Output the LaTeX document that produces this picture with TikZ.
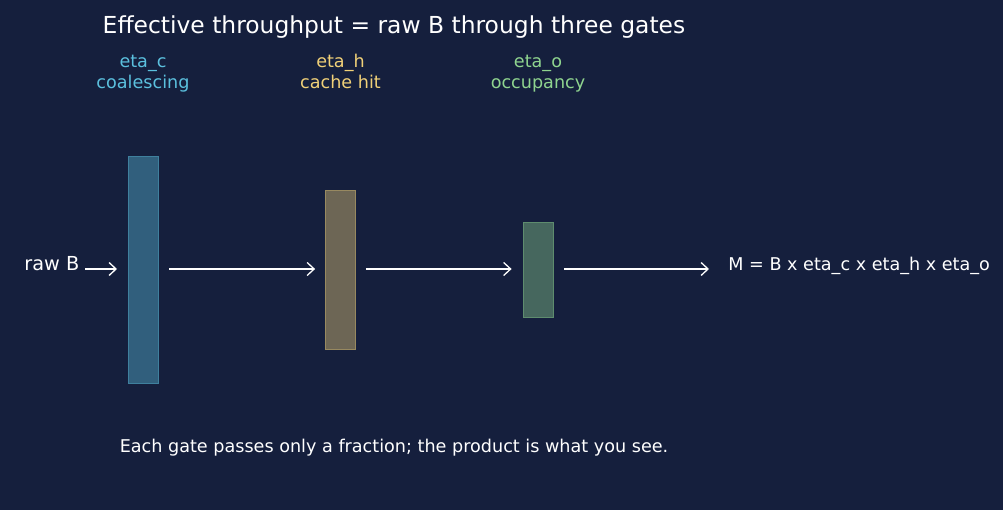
\documentclass[tikz,border=0pt]{standalone}
\usepackage{fontspec}
\setmainfont{DejaVu Sans}
\usetikzlibrary{arrows.meta,positioning}
\definecolor{bgnavy}{HTML}{151F3D}
\definecolor{gatec}{HTML}{5BC0DE}
\definecolor{gateh}{HTML}{F0D078}
\definecolor{gateo}{HTML}{8FD48F}
\begin{document}
\begin{tikzpicture}[x=1pt, y=-1pt, thick]
  \tikzstyle{gatebar} = [rectangle, draw, inner sep=0pt, minimum width=30pt, line width=0.8pt]
  \tikzstyle{gatelabel} = [align=center, font=\fontsize{17.6}{21}\selectfont]
  \tikzstyle{flow} = [draw=white, line width=1.3pt, -{Straight Barb[length=7pt,width=13pt]}]

  \fill[bgnavy] (0,0) rectangle (1003,510);
  \useasboundingbox (0,0) rectangle (1003,510);

  \node[text=white, font=\fontsize{23.4}{28}\selectfont] (title) at (394,27) {Effective throughput = raw B through three gates};

  \node[gatebar, draw=gatec!60!bgnavy, fill=gatec!40!bgnavy, minimum height=227pt] (gc) at (143,269.5) {};
  \node[gatebar, draw=gateh!60!bgnavy, fill=gateh!40!bgnavy, minimum height=159pt] (gh) at (340.5,269.5) {};
  \node[gatebar, draw=gateo!60!bgnavy, fill=gateo!40!bgnavy, minimum height=95pt] (go) at (538,269.5) {};

  \node[gatelabel, text=gatec] (lc) at (143,74) {eta\_c\strut\\coalescing\strut};
  \node[gatelabel, text=gateh] (lh) at (340.5,74) {eta\_h\strut\\cache hit\strut};
  \node[gatelabel, text=gateo] (lo) at (538,74) {eta\_o\strut\\occupancy\strut};

  \node[text=white, font=\fontsize{19.3}{23}\selectfont, anchor=west, inner sep=0pt] (rawb) at (24,264) {raw B};
  \node[text=white, font=\fontsize{17.6}{21}\selectfont, anchor=west, inner sep=0pt] (result) at (728,265.5) {M = B x eta\_c x eta\_h x eta\_o};

  \coordinate (inend) at (117,269);
  \coordinate (outend) at (709,269);

  \draw[flow] (85,269) -- (inend);
  \draw[flow] ([xshift=11pt]gc.east |- inend) -- ([xshift=-10pt]gh.west |- inend);
  \draw[flow] ([xshift=10pt]gh.east |- inend) -- ([xshift=-11pt]go.west |- inend);
  \draw[flow] ([xshift=11pt]go.east |- inend) -- (outend);

  \node[text=white, font=\fontsize{17.6}{21}\selectfont] (note) at (394,448) {Each gate passes only a fraction; the product is what you see.};
\end{tikzpicture}
\end{document}
